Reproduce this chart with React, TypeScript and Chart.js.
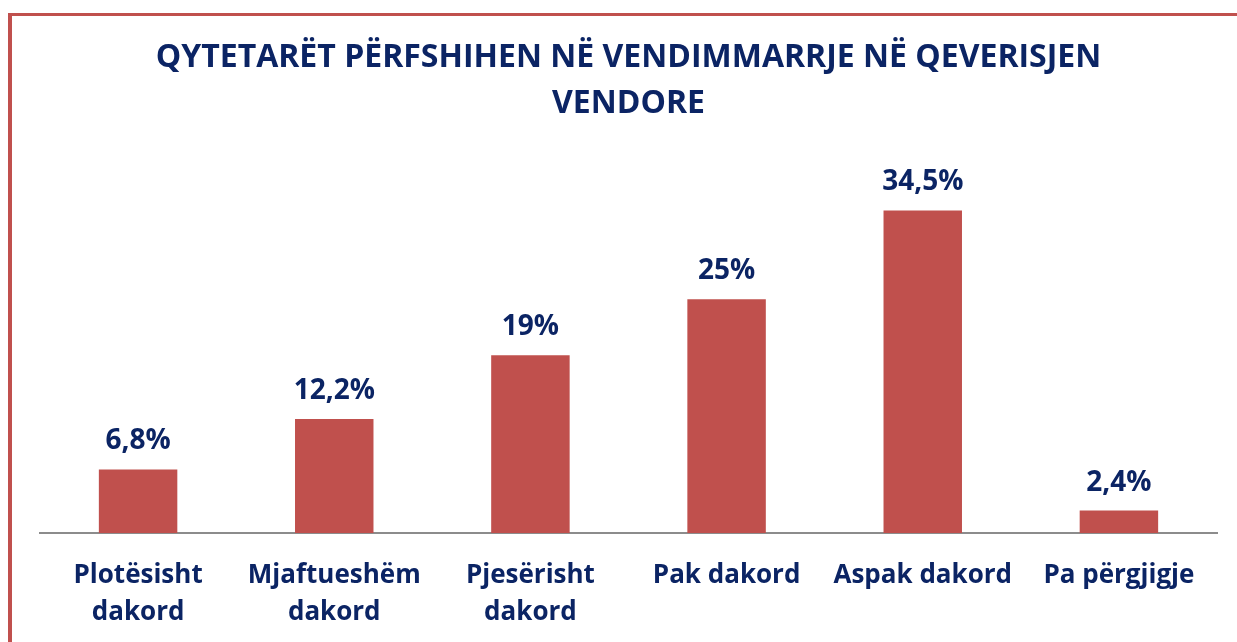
import React, { useEffect, useRef } from "react";
import { Chart, registerables } from "chart.js";

Chart.register(...registerables);

const titleLines = ["QYTETARËT PËRFSHIHEN NË VENDIMMARRJE NË QEVERISJEN", "VENDORE"];
const categories: string[][] = [
  ["Plotësisht", "dakord"],
  ["Mjaftueshëm", "dakord"],
  ["Pjesërisht", "dakord"],
  ["Pak dakord"],
  ["Aspak dakord"],
  ["Pa përgjigje"],
];
const values = [6.8, 12.2, 19, 25, 34.5, 2.4];
const valueLabels = ["6,8%", "12,2%", "19%", "25%", "34,5%", "2,4%"];

const NAVY = "#0B2464";
const RED = "#C0504D";
const FONT = "'Open Sans', sans-serif";

const framePlugin = {
  id: "frame",
  beforeDraw(chart: any) {
    const { ctx, width, height, chartArea } = chart;
    ctx.save();
    ctx.fillStyle = "#ffffff";
    ctx.fillRect(0, 0, width, height);
    ctx.fillStyle = RED;
    ctx.fillRect(8, 13, width - 8, 3);
    ctx.fillRect(8, 13, 4, height - 13);
    // title
    ctx.fillStyle = NAVY;
    ctx.font = `bold 32px ${FONT}`;
    ctx.textAlign = "center";
    ctx.textBaseline = "alphabetic";
    const cx = (chartArea.left + chartArea.right) / 2;
    ctx.fillText(titleLines[0], cx, 67);
    ctx.fillText(titleLines[1], cx, 113);
    ctx.restore();
  },
};

const valueLabelPlugin = {
  id: "valueLabels",
  afterDatasetsDraw(chart: any) {
    const { ctx } = chart;
    const meta = chart.getDatasetMeta(0);
    ctx.save();
    ctx.fillStyle = NAVY;
    ctx.font = `bold 28px ${FONT}`;
    ctx.textAlign = "center";
    ctx.textBaseline = "alphabetic";
    meta.data.forEach((bar: any, i: number) => {
      ctx.fillText(valueLabels[i], bar.x, bar.y - 20);
    });
    ctx.restore();
  },
};

export default function App() {
  const ref = useRef<HTMLCanvasElement | null>(null);
  useEffect(() => {
    if (!ref.current) return;
    const chart = new Chart(ref.current, {
      type: "bar",
      data: {
        labels: categories,
        datasets: [
          {
            data: values,
            backgroundColor: RED,
            borderWidth: 0,
            categoryPercentage: 1,
            barPercentage: 0.4,
          },
        ],
      },
      options: {
        responsive: false,
        animation: false,
        layout: { padding: { left: 40, right: 20, top: 159, bottom: 0 } },
        plugins: { legend: { display: false }, title: { display: false }, tooltip: { enabled: false } },
        scales: {
          x: {
            grid: { display: false, drawTicks: false },
            border: { display: true, color: "#8C8C8C", width: 2 },
            ticks: {
              color: NAVY,
              font: { family: FONT, size: 26, weight: "bold", lineHeight: 1.42 },
              padding: 24,
              maxRotation: 0,
              autoSkip: false,
            },
            afterFit(scale: any) {
              scale.height = 109;
            },
          },
          y: {
            display: false,
            min: 0,
            max: 40,
          },
        },
      },
      plugins: [framePlugin, valueLabelPlugin],
    });
    return () => chart.destroy();
  }, []);
  return (
    <div style={{ position: "absolute", left: 0, top: 0, width: 1237, height: 642 }}>
      <canvas ref={ref} width={1237} height={642} style={{ display: "block" }} />
    </div>
  );
}
